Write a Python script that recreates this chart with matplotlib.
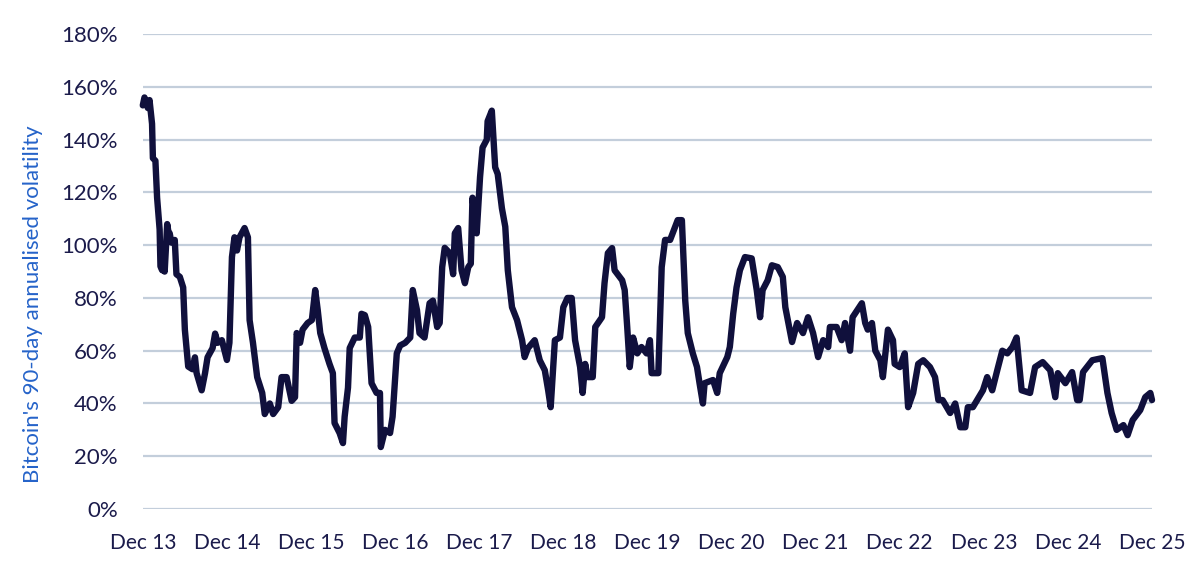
import numpy as np
import matplotlib
matplotlib.use("Agg")
import matplotlib.pyplot as plt

# Bitcoin 90-day annualised volatility.
# yrs = years since Dec 2013, vol = volatility in %
yrs = [0.00, 0.02, 0.06, 0.08, 0.11, 0.12, 0.15, 0.17, 0.20, 0.21, 0.23, 0.24, 0.26, 0.29,
       0.31, 0.32, 0.34, 0.38, 0.40, 0.44, 0.48, 0.50, 0.54, 0.59, 0.62, 0.64, 0.70, 0.74,
       0.77, 0.83, 0.86, 0.89, 0.94, 1.00, 1.03, 1.06, 1.09, 1.12, 1.15, 1.21, 1.25, 1.27,
       1.31, 1.36, 1.42, 1.45, 1.51, 1.55, 1.61, 1.65, 1.71, 1.77, 1.81, 1.83, 1.87, 1.90,
       1.96, 2.01, 2.05, 2.08, 2.11, 2.16, 2.22, 2.26, 2.28, 2.34, 2.38, 2.40, 2.44, 2.46,
       2.52, 2.58, 2.60, 2.64, 2.68, 2.72, 2.78, 2.82, 2.83, 2.88, 2.94, 2.97, 3.02, 3.06,
       3.12, 3.18, 3.21, 3.26, 3.29, 3.35, 3.41, 3.45, 3.50, 3.53, 3.56, 3.59, 3.65, 3.69,
       3.71, 3.75, 3.79, 3.83, 3.87, 3.90, 3.92, 3.97, 4.01, 4.04, 4.09, 4.10, 4.15, 4.19,
       4.22, 4.27, 4.31, 4.34, 4.39, 4.45, 4.51, 4.54, 4.58, 4.66, 4.72, 4.78, 4.82, 4.85,
       4.90, 4.96, 5.00, 5.05, 5.10, 5.14, 5.20, 5.23, 5.26, 5.29, 5.35, 5.38, 5.46, 5.49,
       5.53, 5.58, 5.61, 5.70, 5.73, 5.76, 5.79, 5.83, 5.88, 5.93, 5.99, 6.03, 6.05, 6.13,
       6.17, 6.21, 6.27, 6.30, 6.36, 6.41, 6.45, 6.48, 6.54, 6.59, 6.62, 6.66, 6.68, 6.78,
       6.83, 6.86, 6.95, 6.98, 7.02, 7.06, 7.10, 7.16, 7.24, 7.30, 7.34, 7.37, 7.43, 7.48,
       7.55, 7.61, 7.64, 7.67, 7.72, 7.78, 7.85, 7.91, 7.97, 8.03, 8.09, 8.15, 8.17, 8.25,
       8.31, 8.35, 8.41, 8.44, 8.55, 8.59, 8.62, 8.67, 8.71, 8.77, 8.80, 8.86, 8.92, 8.94,
       9.00, 9.06, 9.10, 9.16, 9.22, 9.28, 9.36, 9.42, 9.46, 9.51, 9.60, 9.66, 9.72, 9.78,
       9.81, 9.87, 9.92, 9.99, 10.04, 10.10, 10.16, 10.22, 10.28, 10.34, 10.39, 10.45,
       10.55, 10.61, 10.70, 10.79, 10.85, 10.88, 10.97, 11.05, 11.11, 11.14, 11.18, 11.29,
       11.41, 11.47, 11.52, 11.58, 11.66, 11.71, 11.77, 11.86, 11.92, 11.98, 12.00]

vol = [153, 156, 152, 155, 146, 133, 132, 118, 106, 92, 90.5, 100, 90, 108,
       104, 104.5, 101, 102, 89, 88, 84, 68, 54, 53, 57.5, 51.5, 45, 51.5,
       57.5, 61, 66.5, 63, 64, 56.5, 63, 95.5, 103, 98, 103, 106.5, 103, 71.6,
       63, 50, 44, 36, 40, 36, 38.6, 50, 50, 41, 42.4, 66.7, 63, 68,
       70.5, 71.6, 83, 75.4, 66.7, 61, 55, 51.5, 32.6, 28.8, 25, 35, 46, 61,
       65, 65, 74, 73.5, 69, 47.7, 44, 44, 23.5, 30, 28.8, 35, 59, 62,
       63, 65, 83, 75.4, 66.7, 65, 78, 79, 69, 70.5, 91.7, 99, 97, 89,
       104.5, 106.5, 90.5, 85.6, 91.7, 93, 118, 104.5, 125.8, 137, 140, 147, 151, 129.5,
       127, 114, 107, 90.5, 76.5, 71.6, 64, 57.6, 61, 64, 56.4, 52.6, 45, 38.6,
       64, 65, 76.5, 80, 80, 64, 53.8, 44, 55, 50, 50, 69, 72.7, 85.6,
       97, 98.9, 90.5, 86.7, 83, 69, 53.8, 65, 59, 61.4, 59, 64, 51.5, 51.5,
       91.7, 102, 102, 104.5, 109.5, 109.5, 79, 66.7, 59, 53.8, 47.7, 40, 47.7, 48.9,
       44, 51.5, 57.6, 61.4, 74, 84, 90.5, 95.5, 95, 83, 72.7, 83, 86.7, 92.4,
       91.7, 88, 76.5, 71.6, 63.3, 70.5, 66.7, 72.7, 66.7, 57.6, 64, 61.4, 69, 69,
       64, 70.5, 60, 72.7, 78, 70.5, 68, 70.5, 60, 56.4, 50, 68, 64, 55,
       53.8, 59, 38.6, 44, 55, 56.4, 53.8, 50, 41.3, 41.3, 36.4, 40, 31, 31,
       38.6, 38.6, 41.3, 45, 50, 45, 52.6, 60, 59, 61.4, 65, 45,
       44, 53.8, 55.7, 52.6, 42.4, 51.5, 47.7, 51.9, 41.3, 41.3, 51.9, 56.4,
       57.2, 44, 36.4, 30, 31.8, 28, 33.7, 37.5, 42.4, 44, 41.3]

tick_labels = ["Dec 13", "Dec 14", "Dec 15", "Dec 16", "Dec 17", "Dec 18", "Dec 19",
               "Dec 20", "Dec 21", "Dec 22", "Dec 23", "Dec 24", "Dec 25"]
y_ticks = [0, 20, 40, 60, 80, 100, 120, 140, 160, 180]

navy = "#10103c"
text_col = "#1b1b4b"
grid_col = "#c3cedb"

plt.rcParams['font.family'] = ['Lato', 'DejaVu Sans']

fig = plt.figure(figsize=(12, 5.69), dpi=100)
ax = fig.add_axes([0.119, 0.1054, 0.841, 0.8346])

ax.plot(yrs, vol, color=navy, lw=4.6, solid_joinstyle='round',
        solid_capstyle='round', clip_on=False, zorder=3)

ax.set_xlim(0, 12)
ax.set_ylim(0, 180)
ax.set_yticks(y_ticks)
ax.set_yticklabels([f"{v}%" for v in y_ticks])
ax.set_xticks(range(len(tick_labels)))
ax.set_xticklabels(tick_labels)

for s in ax.spines.values():
    s.set_visible(False)
ax.grid(axis='y', color=grid_col, lw=1.6)
ax.set_axisbelow(True)
ax.tick_params(axis='both', length=0, labelsize=15, colors=text_col)
ax.tick_params(axis='y', labelsize=16, pad=18)
ax.tick_params(axis='x', pad=17)

fig.text(0.0275, 0.466, "Bitcoin's 90-day annualised volatility", color="#2563c9",
         fontsize=16, rotation=90, ha='center', va='center')

fig.savefig("out.png", dpi=100)
